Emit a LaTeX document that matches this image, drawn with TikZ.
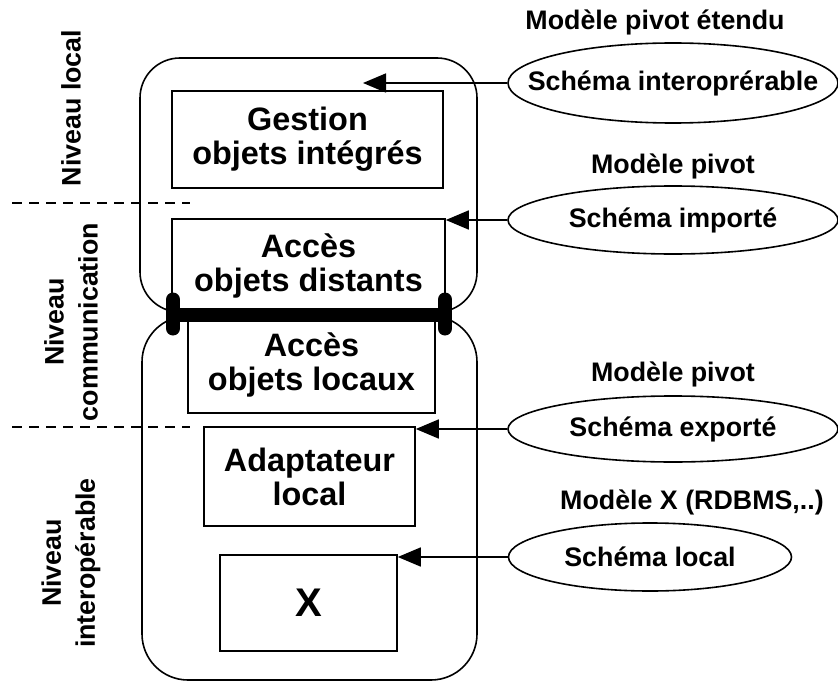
\documentclass[tikz,border=0pt]{standalone}
\usepackage{fontspec}
\setmainfont{Liberation Sans}
\usepackage{tikz}
\usetikzlibrary{positioning,shapes.geometric,arrows.meta}

\newcommand{\boxfont}{\fontsize{32.4}{34}\selectfont\bfseries}
\newcommand{\lblfont}{\fontsize{26.8}{34}\selectfont\bfseries}

\begin{document}
\begin{tikzpicture}[x=1pt,y=-1pt,line width=1.6pt,
    box/.style={draw, align=center, font=\boxfont, inner sep=0pt},
    lbl/.style={align=center, font=\lblfont, inner sep=0pt},
    schema/.style={draw, ellipse, inner sep=0pt},
    fleche/.style={-{Triangle[length=23pt,width=19pt]}},
    niveau/.style={dash pattern=on 10pt off 7pt}]
    \useasboundingbox (0,0) rectangle (838,682);

    % les deux sites
    \draw[rounded corners=40pt] (140,58) rectangle (477,312);
    \draw[rounded corners=46pt] (142,316) rectangle (477,680);

    \node[box, minimum width=271pt, minimum height=97pt] (gest) at (307.5,139.5) {Gestion\\objets intégrés};
    \node[box, minimum width=273pt, minimum height=94pt] (dist) at (308.5,266) {Accès\\objets distants};
    \node[box, minimum width=247pt, minimum height=96pt] (loc) at (311.5,365) {Accès\\objets locaux};
    \node[box, minimum width=211pt, minimum height=99pt] (adapt) at (309.5,476.5) {Adaptateur\\local};
    \node[box, minimum width=177pt, minimum height=96pt, font=\fontsize{40}{42}\selectfont\bfseries] (x) at (308.5,603) {X};

    % liaison
    \coordinate (bl) at (173,314.5);
    \coordinate (br) at (445,314.5);
    \draw[line width=14pt] (bl) -- (br);
    \draw[line width=14pt, line cap=round] ([yshift=15pt]bl) -- ([yshift=-14pt]bl);
    \draw[line width=14pt, line cap=round] ([yshift=15pt]br) -- ([yshift=-14pt]br);

    % niveaux
    \draw[niveau] (12,203) -- (190,203);
    \draw[niveau] (12,427) -- (190,427);
    \node[lbl, rotate=90] (nloc) at (71,108) {Niveau local};
    \node[lbl, rotate=90] (ncom) at (71,322) {Niveau\\communication};
    \node[lbl, rotate=90] (nint) at (71,563) {Niveau\\interopérable};

    % schemas
    \node[schema, minimum width=330pt, minimum height=80pt] (s1) at (673,83) {};
    \node[schema, minimum width=330pt, minimum height=68pt] (s2) at (673,220) {};
    \node[schema, minimum width=330pt, minimum height=66pt] (s3) at (673,429) {};
    \node[schema, minimum width=283pt, minimum height=68pt] (s4) at (650,557) {};
    \node[lbl] (t1) at (s1) {Schéma interoprérable};
    \node[lbl] (t2) at (s2) {Schéma importé};
    \node[lbl] (t3) at (s3) {Schéma exporté};
    \node[lbl] (t4) at (s4) {Schéma local};
    \node[lbl, above=6pt of s1, xshift=-18pt] (m1) {Modèle pivot étendu};
    \node[lbl, above=5pt of s2] (m2) {Modèle pivot};
    \node[lbl, above=7pt of s3] (m3) {Modèle pivot};
    \node[lbl, above=6pt of s4, xshift=42pt] (m4) {Modèle X (RDBMS,..)};

    \coordinate (gtip) at (363,83);
    \draw[fleche] (s1.west) -- (gtip);
    \draw[fleche] (s2.west) -- (dist.north east |- s2.west);
    \draw[fleche] (s3.west) -- (adapt.north east |- s3.west);
    \draw[fleche] (s4.west) -- (x.north east |- s4.west);
\end{tikzpicture}
\end{document}
